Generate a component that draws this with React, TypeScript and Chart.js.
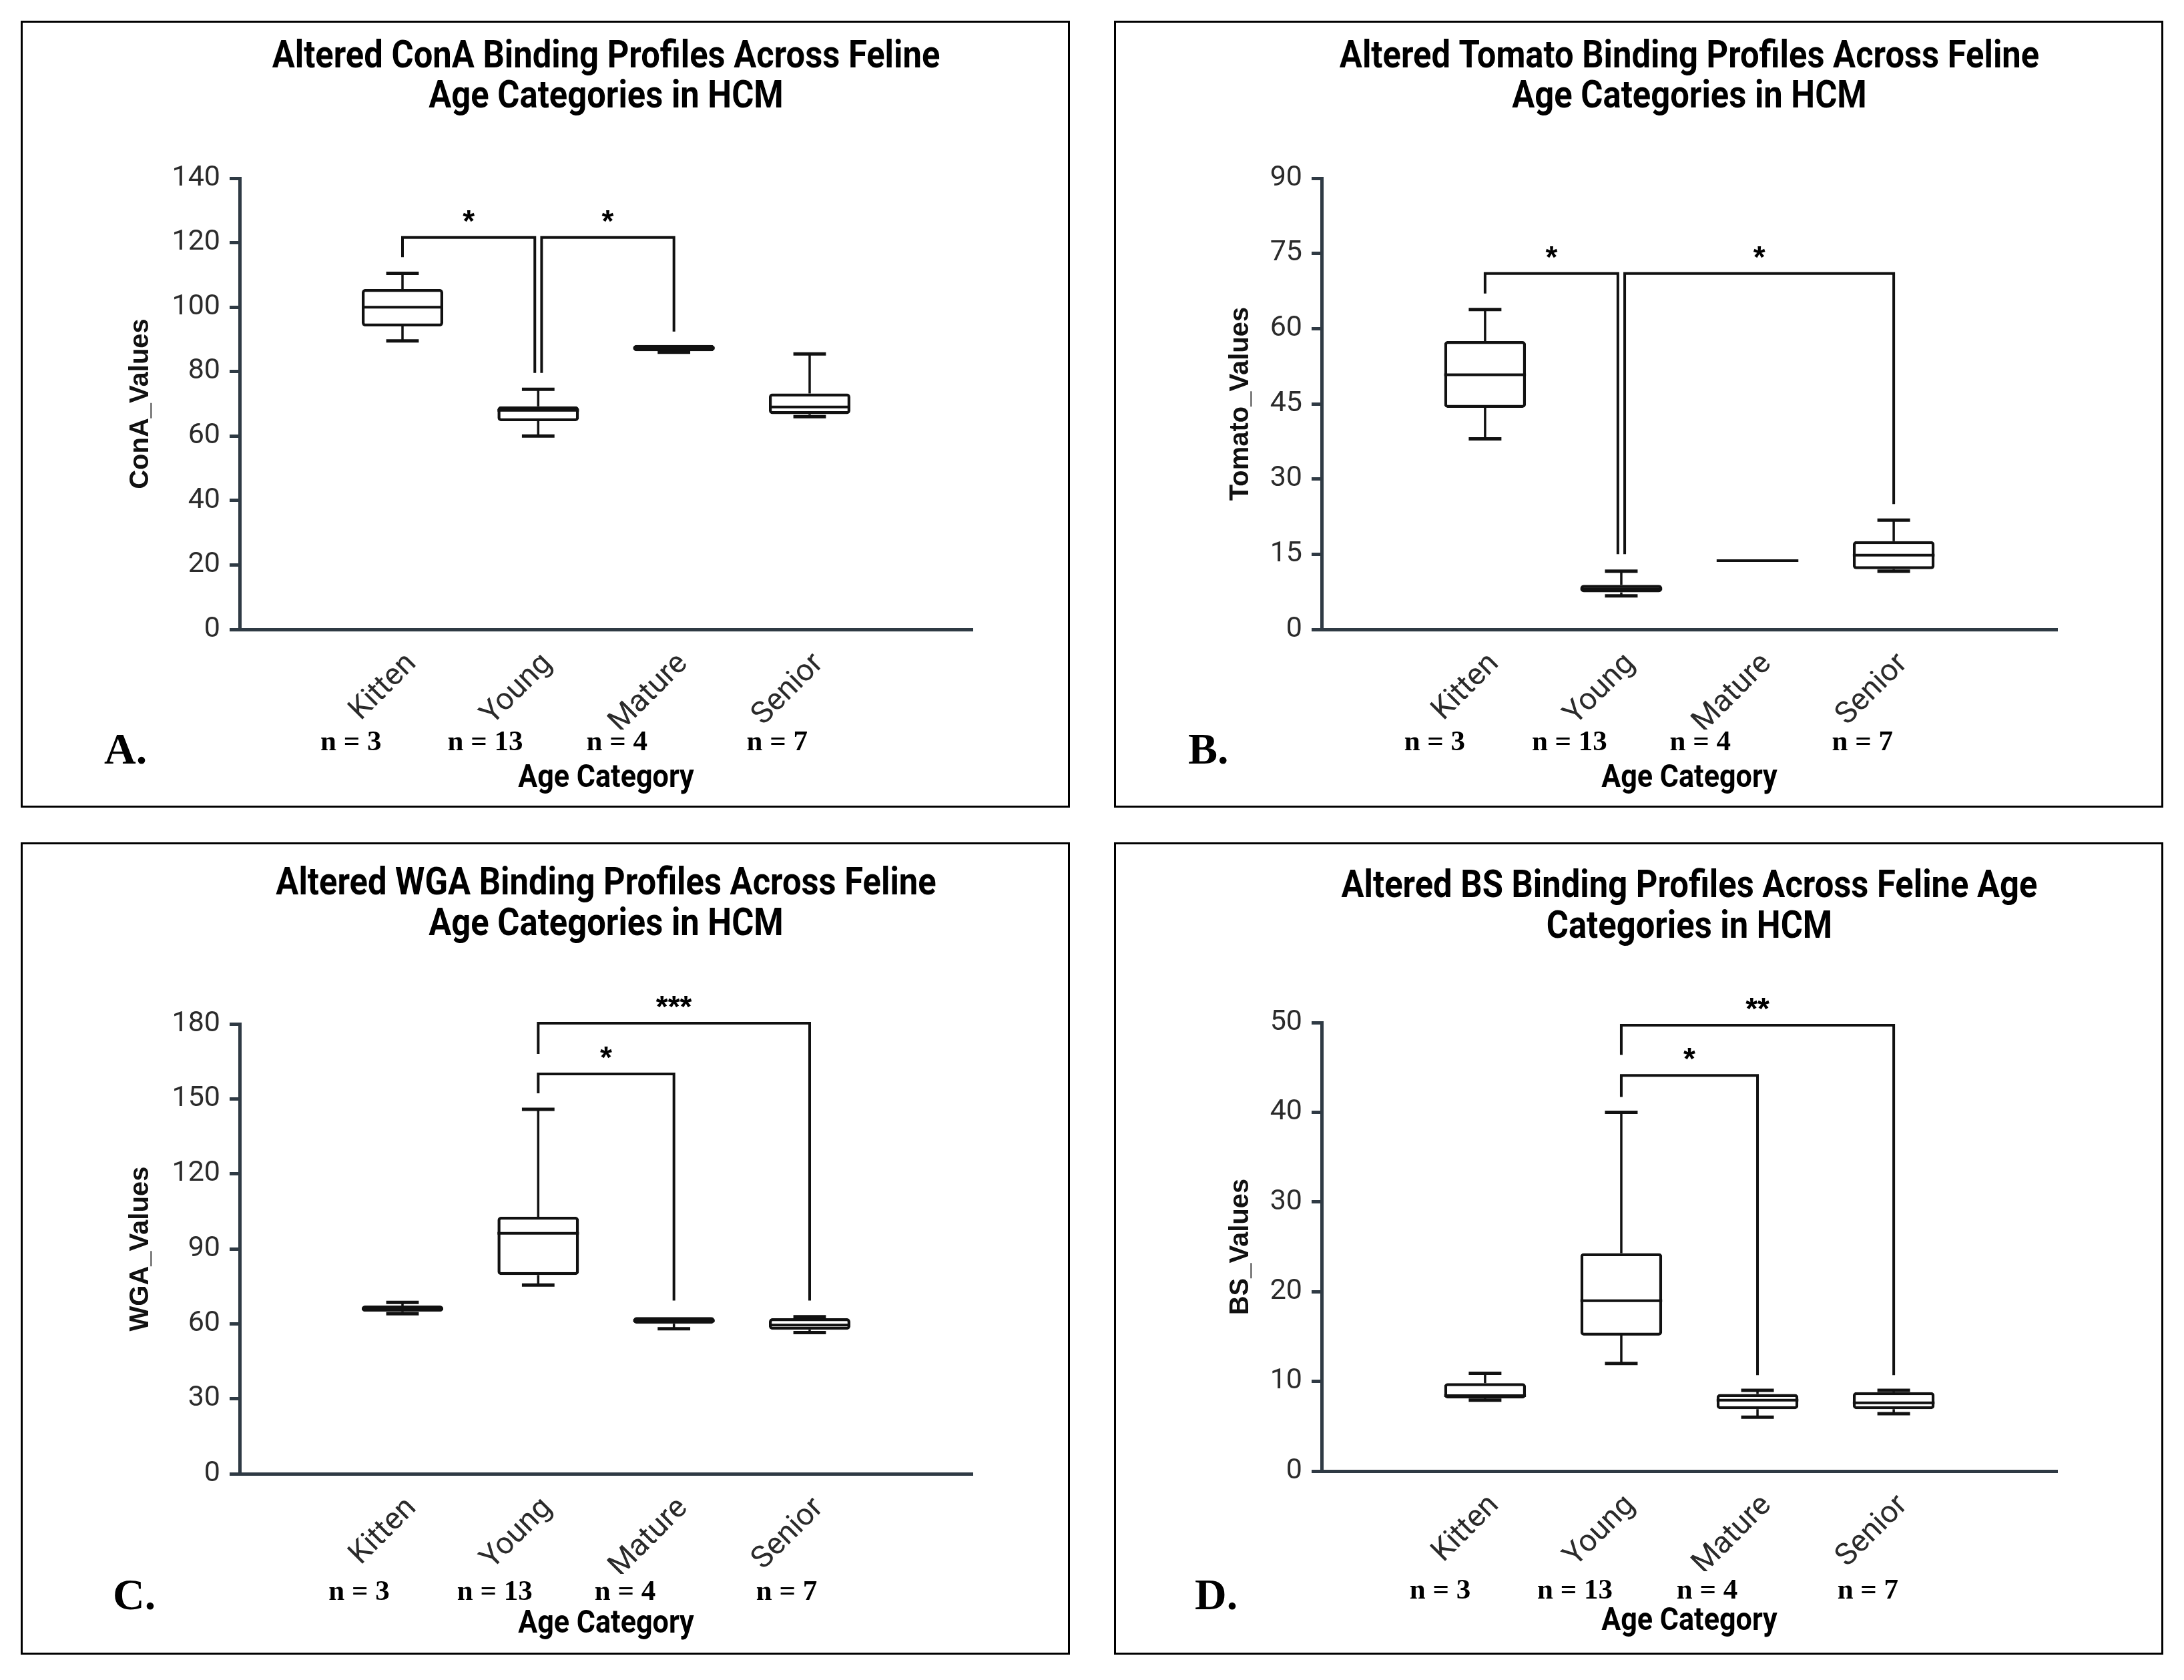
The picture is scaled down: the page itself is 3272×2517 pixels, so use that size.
import React, { useEffect, useRef } from 'react';
import { Chart, registerables } from 'chart.js';

Chart.register(...registerables);

// ---------------- data ----------------
const categories = ['Kitten', 'Young', 'Mature', 'Senior'];
const sampleSizes = [3, 13, 4, 7];

// A. ConA
const conaYMax = 140;
const conaYStep = 20;
const conaMin = [89.5, 60, 86, 66];
const conaQ1 = [94, 64.6, 86.3, 66.8];
const conaMedian = [100, 68, 87.3, 69];
const conaQ3 = [105.6, 69.2, 88.3, 73.2];
const conaMax = [110.5, 74.5, 88.3, 85.5];
const conaBracketFromX = [0, 1.025];
const conaBracketFromY = [115.5, 79.6];
const conaBracketToX = [0.975, 2];
const conaBracketToY = [79.6, 92.4];
const conaBracketTop = [121.6, 121.6];
const conaBracketLabel = ['*', '*'];

// B. Tomato
const tomatoYMax = 90;
const tomatoYStep = 15;
const tomatoMin = [38, 6.7, 13.7, 11.6];
const tomatoQ1 = [44.2, 7.4, 13.7, 12];
const tomatoMedian = [50.8, 8.1, 13.7, 14.8];
const tomatoQ3 = [57.5, 8.9, 13.7, 17.6];
const tomatoMax = [63.8, 11.6, 13.7, 21.8];
const tomatoBracketFromX = [0, 1.025];
const tomatoBracketFromY = [67, 15];
const tomatoBracketToX = [0.975, 3];
const tomatoBracketToY = [15, 25];
const tomatoBracketTop = [71, 71];
const tomatoBracketLabel = ['*', '*'];

// C. WGA
const wgaYMax = 180;
const wgaYStep = 30;
const wgaMin = [64, 75.5, 58, 56.5];
const wgaQ1 = [64.8, 79.5, 60, 57.6];
const wgaMedian = [66, 96.2, 61.2, 59.5];
const wgaQ3 = [67.3, 102.8, 62.7, 62.2];
const wgaMax = [68.6, 145.8, 62.7, 62.8];
const wgaBracketFromX = [1, 1];
const wgaBracketFromY = [168, 152.2];
const wgaBracketToX = [3, 2];
const wgaBracketToY = [69.3, 69.3];
const wgaBracketTop = [180.3, 160];
const wgaBracketLabel = ['***', '*'];

// D. BS
const bsYMax = 50;
const bsYStep = 10;
const bsMin = [7.9, 12, 6, 6.4];
const bsQ1 = [8.1, 15.1, 6.9, 6.9];
const bsMedian = [8.4, 19, 7.9, 7.6];
const bsQ3 = [9.8, 24.3, 8.6, 8.8];
const bsMax = [10.9, 40, 9, 9];
const bsBracketFromX = [1, 1];
const bsBracketFromY = [46.4, 41.7];
const bsBracketToX = [3, 2];
const bsBracketToY = [10.7, 10.7];
const bsBracketTop = [49.7, 44.1];
const bsBracketLabel = ['**', '*'];

// ---------------- styling / layout ----------------
const INK = '#111111';
const AXIS = '#2f3a44';
const TICK_TEXT = '#2b2b2b';
const X_MIN = -1.2;
const X_MAX = 4.2;
const BOX_HALF = 0.3;
const CAP_HALF = 0.12;

interface Layout {
  left: number; top: number; width: number; height: number;
  padTop: number; padLeft: number; padRight: number; padBottom: number;
  yAxisWidth: number;
  titleY: number[]; xTitleY: number; nY: number; nOffsets: number[];
  letterX: number; letterY: number;
}

interface PanelSpec {
  id: string;
  title: string[];
  yTitle: string;
  yMax: number; yStep: number;
  min: number[]; q1: number[]; med: number[]; q3: number[]; max: number[];
  brFromX: number[]; brFromY: number[]; brToX: number[]; brToY: number[]; brTop: number[]; brLabel: string[];
  lay: Layout;
}

const panels: PanelSpec[] = [
  {
    id: 'A.',
    title: ['Altered ConA Binding Profiles Across Feline', 'Age Categories in HCM'],
    yTitle: 'ConA_Values', yMax: conaYMax, yStep: conaYStep,
    min: conaMin, q1: conaQ1, med: conaMedian, q3: conaQ3, max: conaMax,
    brFromX: conaBracketFromX, brFromY: conaBracketFromY, brToX: conaBracketToX, brToY: conaBracketToY,
    brTop: conaBracketTop, brLabel: conaBracketLabel,
    lay: {
      left: 31, top: 31, width: 1572, height: 1179,
      padTop: 236, padLeft: 136, padRight: 146, padBottom: 117, yAxisWidth: 192,
      titleY: [56, 116], xTitleY: 1136, nY: 1093, nOffsets: [-0.38, -0.39, -0.42, -0.24],
      letterX: 125, letterY: 1113,
    },
  },
  {
    id: 'B.',
    title: ['Altered Tomato Binding Profiles Across Feline', 'Age Categories in HCM'],
    yTitle: 'Tomato_Values', yMax: tomatoYMax, yStep: tomatoYStep,
    min: tomatoMin, q1: tomatoQ1, med: tomatoMedian, q3: tomatoQ3, max: tomatoMax,
    brFromX: tomatoBracketFromX, brFromY: tomatoBracketFromY, brToX: tomatoBracketToX, brToY: tomatoBracketToY,
    brTop: tomatoBracketTop, brLabel: tomatoBracketLabel,
    lay: {
      left: 1669, top: 31, width: 1572, height: 1179,
      padTop: 236, padLeft: 146, padRight: 159, padBottom: 117, yAxisWidth: 165,
      titleY: [56, 116], xTitleY: 1136, nY: 1093, nOffsets: [-0.37, -0.38, -0.42, -0.23],
      letterX: 111, letterY: 1113,
    },
  },
  {
    id: 'C.',
    title: ['Altered WGA Binding Profiles Across Feline', 'Age Categories in HCM'],
    yTitle: 'WGA_Values', yMax: wgaYMax, yStep: wgaYStep,
    min: wgaMin, q1: wgaQ1, med: wgaMedian, q3: wgaQ3, max: wgaMax,
    brFromX: wgaBracketFromX, brFromY: wgaBracketFromY, brToX: wgaBracketToX, brToY: wgaBracketToY,
    brTop: wgaBracketTop, brLabel: wgaBracketLabel,
    lay: {
      left: 31, top: 1262, width: 1572, height: 1217,
      padTop: 272, padLeft: 136, padRight: 146, padBottom: 121, yAxisWidth: 192,
      titleY: [64, 125], xTitleY: 1172, nY: 1135, nOffsets: [-0.32, -0.32, -0.36, -0.17],
      letterX: 138, letterY: 1149,
    },
  },
  {
    id: 'D.',
    title: ['Altered BS Binding Profiles Across Feline Age', 'Categories in HCM'],
    yTitle: 'BS_Values', yMax: bsYMax, yStep: bsYStep,
    min: bsMin, q1: bsQ1, med: bsMedian, q3: bsQ3, max: bsMax,
    brFromX: bsBracketFromX, brFromY: bsBracketFromY, brToX: bsBracketToX, brToY: bsBracketToY,
    brTop: bsBracketTop, brLabel: bsBracketLabel,
    lay: {
      left: 1669, top: 1262, width: 1572, height: 1217,
      padTop: 270, padLeft: 146, padRight: 159, padBottom: 125, yAxisWidth: 165,
      titleY: [68, 129], xTitleY: 1168, nY: 1133, nOffsets: [-0.33, -0.34, -0.37, -0.19],
      letterX: 121, letterY: 1149,
    },
  },
];

type Pt = { x: number; y: number | null };

function segments(list: Pt[][]): Pt[] {
  const out: Pt[] = [];
  for (const s of list) {
    out.push(...s);
    out.push({ x: s[s.length - 1].x, y: null });
  }
  return out;
}

function lineDataset(label: string, data: Pt[], width: number) {
  return {
    type: 'line' as const,
    label,
    data,
    borderColor: INK,
    backgroundColor: INK,
    borderWidth: width,
    pointRadius: 0,
    pointHoverRadius: 0,
    pointHitRadius: 0,
    fill: false,
    tension: 0,
    spanGaps: false,
    clip: false as any,
    borderCapStyle: 'butt' as const,
    borderJoinStyle: 'miter' as const,
    order: 1,
  };
}

function drawCondensed(ctx: CanvasRenderingContext2D, text: string, cx: number, cy: number, font: string, sx: number) {
  ctx.save();
  ctx.font = font;
  ctx.textAlign = 'center';
  ctx.textBaseline = 'middle';
  ctx.translate(cx, cy);
  ctx.scale(sx, 1);
  ctx.fillText(text, 0, 0);
  ctx.restore();
}

function makeAnnotator(p: PanelSpec) {
  return {
    id: 'annotate',
    afterDraw(chart: any) {
      const { ctx, chartArea } = chart;
      const xs = chart.scales.x;
      const ys = chart.scales.y;
      const cx = (chartArea.left + chartArea.right) / 2;
      ctx.save();
      ctx.fillStyle = '#000';
      // titles
      p.title.forEach((line, k) =>
        drawCondensed(ctx, line, cx, p.lay.titleY[k], "bold 57px Roboto, 'Liberation Sans', sans-serif", 0.89)
      );
      drawCondensed(ctx, 'Age Category', cx, p.lay.xTitleY, "bold 49px Roboto, 'Liberation Sans', sans-serif", 0.88);
      // sample sizes
      ctx.font = "bold 43px 'Liberation Serif', 'Times New Roman', serif";
      ctx.textAlign = 'center';
      ctx.textBaseline = 'alphabetic';
      sampleSizes.forEach((n, i) => {
        ctx.fillText(`n = ${n}`, xs.getPixelForValue(i + p.lay.nOffsets[i]), p.lay.nY);
      });
      // panel letter
      ctx.font = "bold 66px 'Liberation Serif', 'Times New Roman', serif";
      ctx.textAlign = 'left';
      ctx.fillText(p.id, p.lay.letterX, p.lay.letterY);
      // significance stars
      ctx.font = "bold 46px 'Liberation Sans', Arial, sans-serif";
      ctx.textAlign = 'center';
      p.brLabel.forEach((lab, k) => {
        const x = xs.getPixelForValue((p.brFromX[k] + p.brToX[k]) / 2);
        const yc = ys.getPixelForValue(p.brTop[k]) - 32;
        const m = ctx.measureText(lab);
        ctx.fillText(lab, x, yc + (m.actualBoundingBoxAscent - m.actualBoundingBoxDescent) / 2);
      });
      ctx.restore();
    },
  };
}

function buildConfig(p: PanelSpec): any {
  const boxData = categories.map((_, i) => ({ x: i, y: [p.q1[i], p.q3[i]] }));
  const whiskers: Pt[][] = [];
  const caps: Pt[][] = [];
  const medians: Pt[][] = [];
  categories.forEach((_, i) => {
    if (p.max[i] > p.q3[i]) {
      whiskers.push([{ x: i, y: p.q3[i] }, { x: i, y: p.max[i] }]);
      caps.push([{ x: i - CAP_HALF, y: p.max[i] }, { x: i + CAP_HALF, y: p.max[i] }]);
    }
    if (p.min[i] < p.q1[i]) {
      whiskers.push([{ x: i, y: p.min[i] }, { x: i, y: p.q1[i] }]);
      caps.push([{ x: i - CAP_HALF, y: p.min[i] }, { x: i + CAP_HALF, y: p.min[i] }]);
    }
    medians.push([{ x: i - BOX_HALF, y: p.med[i] }, { x: i + BOX_HALF, y: p.med[i] }]);
  });
  const brackets: Pt[][] = p.brTop.map((top, k) => [
    { x: p.brFromX[k], y: p.brFromY[k] },
    { x: p.brFromX[k], y: top },
    { x: p.brToX[k], y: top },
    { x: p.brToX[k], y: p.brToY[k] },
  ]);

  return {
    type: 'bar',
    data: {
      datasets: [
        {
          type: 'bar',
          label: 'box',
          data: boxData,
          backgroundColor: '#ffffff',
          borderColor: INK,
          borderWidth: 4.5,
          borderRadius: 5,
          borderSkipped: false,
          barPercentage: BOX_HALF * 2,
          categoryPercentage: 1,
          order: 3,
        },
        lineDataset('whiskers', segments(whiskers), 3.5),
        lineDataset('caps', segments(caps), 5),
        lineDataset('medians', segments(medians), 4),
        lineDataset('brackets', segments(brackets), 4),
      ],
    },
    options: {
      responsive: false,
      animation: false,
      events: [],
      layout: {
        padding: { top: p.lay.padTop, left: p.lay.padLeft, right: p.lay.padRight, bottom: p.lay.padBottom },
      },
      plugins: {
        legend: { display: false },
        tooltip: { enabled: false },
        title: { display: false },
      },
      scales: {
        x: {
          type: 'linear',
          min: X_MIN,
          max: X_MAX,
          bounds: 'data',
          offset: false,
          afterBuildTicks: (scale: any) => {
            scale.ticks = categories.map((_, i) => ({ value: i }));
          },
          afterFit: (scale: any) => {
            scale.height = 150;
          },
          grid: { display: false, drawTicks: false, tickLength: 0 },
          border: { display: true, color: AXIS, width: 5 },
          ticks: {
            autoSkip: false,
            minRotation: 45,
            maxRotation: 45,
            padding: 25,
            labelOffset: 14,
            color: TICK_TEXT,
            font: { family: 'Roboto', size: 46 },
            callback: (v: any) => categories[v] ?? '',
          },
        },
        y: {
          type: 'linear',
          min: 0,
          max: p.yMax,
          afterFit: (scale: any) => {
            scale.width = p.lay.yAxisWidth;
          },
          grid: {
            display: true,
            drawOnChartArea: false,
            drawTicks: true,
            tickLength: 15,
            color: AXIS,
            lineWidth: 5,
          },
          border: { display: true, color: AXIS, width: 5 },
          ticks: {
            stepSize: p.yStep,
            padding: 14,
            color: TICK_TEXT,
            font: { family: 'Roboto', size: 43 },
          },
          title: {
            display: true,
            text: p.yTitle,
            color: INK,
            font: { family: "'Liberation Sans', Arial, sans-serif", weight: 'bold', size: 40 },
            padding: { top: 20, bottom: 0 },
          },
        },
      },
    },
    plugins: [makeAnnotator(p)],
  };
}

function Panel({ spec }: { spec: PanelSpec }) {
  const ref = useRef<HTMLCanvasElement>(null);
  useEffect(() => {
    if (!ref.current) return;
    const chart = new Chart(ref.current, buildConfig(spec));
    return () => chart.destroy();
  }, [spec]);
  const { left, top, width, height } = spec.lay;
  return (
    <div style={{ position: 'absolute', left, top, width, height }}>
      <canvas ref={ref} width={width} height={height} style={{ display: 'block', width, height }} />
      <div
        style={{
          position: 'absolute',
          left: 0,
          top: 0,
          width,
          height,
          border: '3px solid #000',
          boxSizing: 'border-box',
          pointerEvents: 'none',
        }}
      />
    </div>
  );
}

export default function App() {
  return (
    <div
      style={{
        position: 'absolute',
        left: 0,
        top: 0,
        width: 3272,
        height: 2517,
        background: '#ffffff',
        overflow: 'hidden',
      }}
    >
      {panels.map((p) => (
        <Panel key={p.id} spec={p} />
      ))}
    </div>
  );
}
